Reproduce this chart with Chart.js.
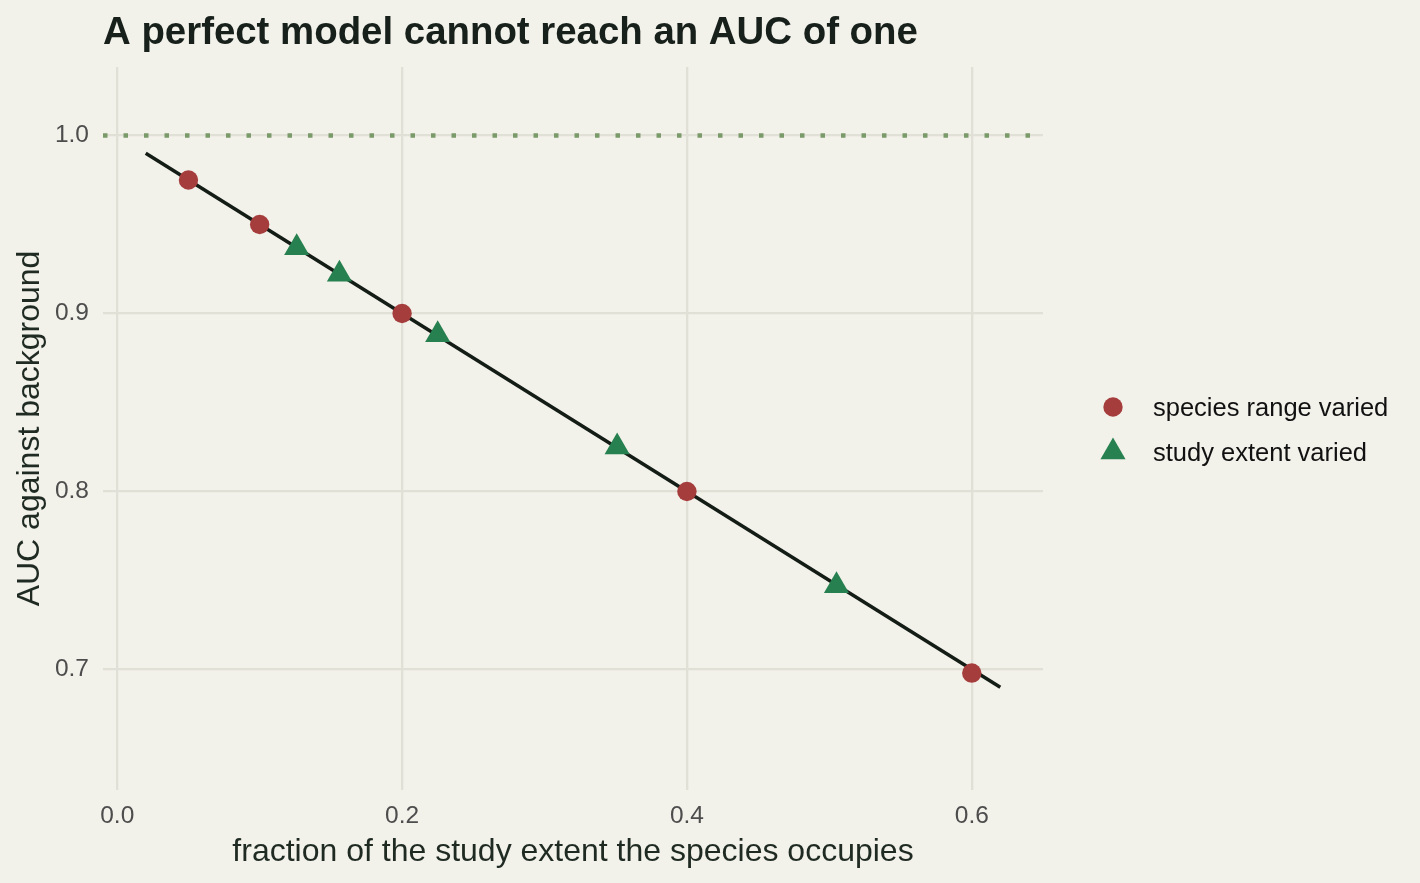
<!DOCTYPE html>
<html><head><meta charset="utf-8">
<script src="https://cdn.jsdelivr.net/npm/chart.js@4/dist/chart.umd.min.js"></script>
<style>html,body{margin:0;padding:0;background:#f2f1ea;overflow:hidden}#wrap{width:1420px;height:883px}</style>
</head><body><div id="wrap"><canvas id="c" width="1420" height="883"></canvas></div>
<script>
const titleText = 'A perfect model cannot reach an AUC of one';
const xAxisTitle = 'fraction of the study extent the species occupies';
const yAxisTitle = 'AUC against background';
const xTicks = [0.0, 0.2, 0.4, 0.6];
const yTicks = [0.7, 0.8, 0.9, 1.0];
const seriesNames = ['species range varied', 'study extent varied'];
const rangeVariedX = [0.05, 0.10, 0.20, 0.40, 0.60];
const rangeVariedY = [0.975, 0.950, 0.900, 0.800, 0.698];
const extentVariedX = [0.126, 0.156, 0.225, 0.351, 0.505];
const extentVariedY = [0.937, 0.922, 0.888, 0.825, 0.747];
const fitLineX = [0.02, 0.62];
const fitLineY = [0.99, 0.69];
const perfectAUC = 1.0;
const xLimits = [-0.01, 0.65];
const yLimits = [0.6323, 1.0385];

const FONT = '"Liberation Sans", Arial, Helvetica, sans-serif';
const BG = '#f2f1ea';
const GRID = '#e1e0d6';
const RED = '#a53d3d';
const GREEN = '#27804f';

const pts = (xs, ys) => xs.map((x, i) => ({x, y: ys[i]}));

const bgPlugin = {
  id: 'bg',
  beforeDraw(chart) {
    const ctx = chart.ctx;
    ctx.save(); ctx.fillStyle = BG; ctx.fillRect(0, 0, chart.width, chart.height); ctx.restore();
  }
};

const legendPlugin = {
  id: 'customLegend',
  afterDraw(chart) {
    const ctx = chart.ctx;
    const items = [chart.data.datasets[0], chart.data.datasets[1]];
    const mx = 1113, tx = 1153, ys = [407, 452];
    ctx.save();
    items.forEach((ds, i) => {
      const y = ys[i];
      ctx.fillStyle = ds.backgroundColor;
      ctx.beginPath();
      if (ds.pointStyle === 'triangle') {
        const r = ds.pointRadius;
        ctx.moveTo(mx, y - r);
        ctx.lineTo(mx + r * Math.sqrt(3) / 2, y + r / 2);
        ctx.lineTo(mx - r * Math.sqrt(3) / 2, y + r / 2);
        ctx.closePath();
      } else {
        ctx.arc(mx, y, ds.pointRadius, 0, Math.PI * 2);
      }
      ctx.fill();
      ctx.fillStyle = '#111111';
      ctx.font = '25.5px ' + FONT;
      ctx.textBaseline = 'middle';
      ctx.textAlign = 'left';
      ctx.fillText(ds.label, tx, y + 2);
    });
    ctx.restore();
  }
};

new Chart(document.getElementById('c'), {
  type: 'scatter',
  data: {
    datasets: [
      { label: seriesNames[0], data: pts(rangeVariedX, rangeVariedY), pointStyle: 'circle',
        pointRadius: 9.7, backgroundColor: RED, borderWidth: 0, order: 0 },
      { label: seriesNames[1], data: pts(extentVariedX, extentVariedY), pointStyle: 'triangle',
        pointRadius: 14.5, backgroundColor: GREEN, borderWidth: 0, order: 1 },
      { type: 'line', label: 'fit', data: pts(fitLineX, fitLineY), borderColor: '#141c16',
        borderWidth: 3.5, pointRadius: 0, fill: false, order: 2 },
      { type: 'line', label: 'perfect', data: pts(xLimits, [perfectAUC, perfectAUC]), borderColor: '#7b9a6a',
        borderWidth: 4.5, borderDash: [4.5, 16], borderCapStyle: 'butt', pointRadius: 0, fill: false, order: 3 }
    ]
  },
  options: {
    responsive: false,
    devicePixelRatio: 1,
    animation: false,
    events: [],
    layout: { padding: { left: 0, top: 0, right: 377, bottom: 0 } },
    plugins: {
      legend: { display: false },
      tooltip: { enabled: false },
      title: {
        display: true, text: titleText, align: 'start', fullSize: false,
        color: '#17201b', font: { family: FONT, size: 38.4, weight: 'bold', lineHeight: 1.2 },
        padding: { top: 10.5, bottom: 10.4 }
      }
    },
    scales: {
      x: {
        type: 'linear', position: 'bottom', min: xLimits[0], max: xLimits[1],
        afterBuildTicks: s => { s.ticks = xTicks.map(v => ({value: v})); },
        afterFit: s => { s.height = 93; },
        ticks: { color: '#4d4d4d', font: { family: FONT, size: 24.5 }, padding: 12,
                 callback: v => Number(v).toFixed(1), maxRotation: 0, autoSkip: false },
        grid: { color: GRID, lineWidth: 2.3, drawTicks: false },
        border: { display: false },
        title: { display: true, text: xAxisTitle, color: '#1f2b22',
                 font: { family: FONT, size: 32, lineHeight: 1.2 }, padding: { top: 0, bottom: 11.5 } }
      },
      y: {
        type: 'linear', position: 'left', min: yLimits[0], max: yLimits[1],
        afterBuildTicks: s => { s.ticks = yTicks.map(v => ({value: v})); },
        afterFit: s => { s.width = 103; },
        ticks: { color: '#4d4d4d', font: { family: FONT, size: 24.5 }, padding: 14,
                 callback: v => Number(v).toFixed(1), autoSkip: false },
        grid: { color: GRID, lineWidth: 2.3, drawTicks: false },
        border: { display: false },
        title: { display: true, text: yAxisTitle, color: '#1f2b22',
                 font: { family: FONT, size: 32, lineHeight: 1.2 }, padding: { top: 11, bottom: 0 } }
      }
    }
  },
  plugins: [bgPlugin, legendPlugin]
});
</script></body></html>
